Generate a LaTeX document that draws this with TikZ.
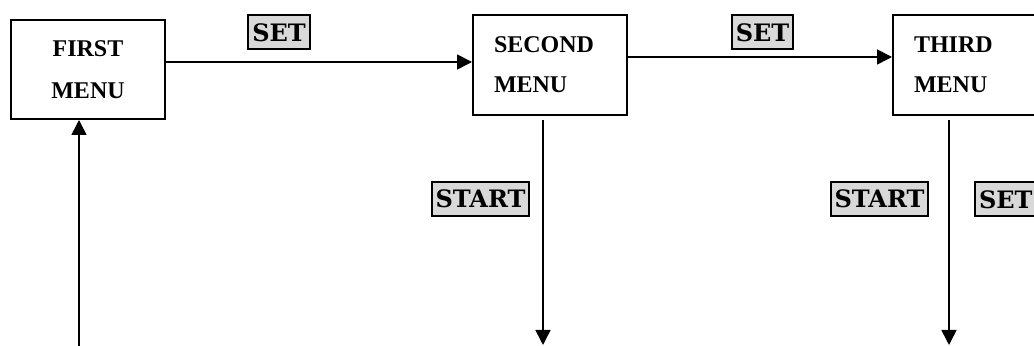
\documentclass[tikz,border=0pt]{standalone}
\usepackage{fontspec}
\setmainfont{Liberation Serif}
\newfontfamily\keyfont{DejaVu Serif}
\usetikzlibrary{arrows.meta,positioning}

\tikzset{
  menu/.style={draw, line width=1pt, minimum height=50pt, inner sep=0pt, font=\bfseries\fontsize{12}{20}\selectfont},
  key/.style={draw, line width=1pt, fill=black!15, inner xsep=2pt, inner ysep=0pt, minimum height=17pt, font=\keyfont\bfseries\fontsize{12}{14}\selectfont},
  arr/.style={-{Triangle[width=7.5pt,length=7.5pt]}, line width=0.8pt}
}

\begin{document}
\begin{tikzpicture}[x=0.5pt,y=-0.5pt]
\useasboundingbox (0,0) rectangle (1034,346);
\clip (0,0) rectangle (1034,346);

\coordinate(O1) at (10,19);
\node[below right=0cm of O1,menu, minimum width=77pt, minimum height=49.5pt, align=center, font=\bfseries\fontsize{12}{21}\selectfont](first) {FIRST\\MENU};

\coordinate(O1) at (472,14);
\node[below right=0cm of O1,menu, text width=56pt, inner xsep=10.5pt, align=left](second) {SECOND\\MENU};

\coordinate(O1) at (892,14);
\node[below right=0cm of O1,menu, text width=56pt, inner xsep=10.5pt, align=left](third) {THIRD\\MENU};

\coordinate(in1) at (79,346);
\coordinate(out2) at (543,345);
\coordinate(out3) at (949,345);

\draw[arr] ([yshift=3.75pt]first.east) -- ([yshift=1.5pt]second.west);
\draw[arr] ([yshift=4pt]second.east) -- ([yshift=4pt]third.west);
\draw[arr] (in1) -- (first.south -| in1);
\draw[arr, shorten <=2pt] (second.south -| out2) -- (out2);
\draw[arr, shorten <=2pt] (third.south -| out3) -- (out3);

\node[key] (set1) at (279,32.5) {SET};
\node[key] (set2) at (762.5,32.5) {SET};
\node[key] (start1) at (480.5,199) {START};
\node[key] (start2) at (879.5,199) {START};
\node[key, anchor=west] (set3) at (974,199.5) {SET};
\end{tikzpicture}
\end{document}
